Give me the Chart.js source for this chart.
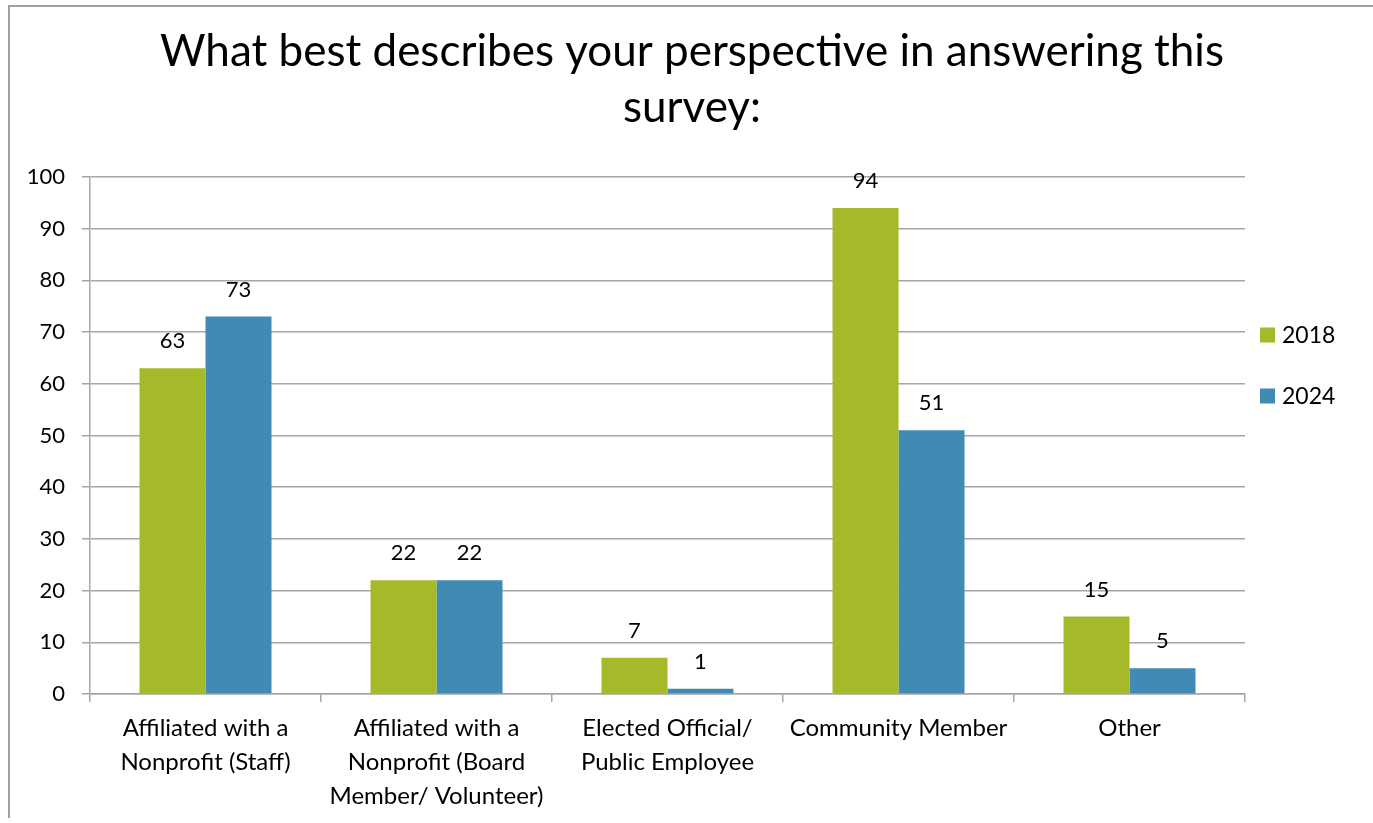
<!DOCTYPE html>
<html>
<head>
<meta charset="utf-8">
<script src="https://cdn.jsdelivr.net/npm/chart.js@4"></script>
<style>
  html, body { margin: 0; padding: 0; background: #fff; }
  #wrap { position: relative; width: 1373px; height: 823px; overflow: hidden; }
  #frame { position: absolute; left: 8px; top: 5px; width: 1400px; height: 813px;
           border-top: 2px solid #a0a0a0; border-left: 2px solid #a0a0a0; box-sizing: border-box; }
  canvas { position: absolute; left: 0; top: 0; }
</style>
</head>
<body>
<div id="wrap">
  <div id="frame"></div>
  <canvas id="c" width="1373" height="823"></canvas>
</div>
<script>
const titleLines = ['What best describes your perspective in answering this', 'survey:'];
const categories = [
  ['Affiliated with a', 'Nonprofit (Staff)'],
  ['Affiliated with a', 'Nonprofit (Board', 'Member/ Volunteer)'],
  ['Elected Official/', 'Public Employee'],
  ['Community Member'],
  ['Other']
];
const seriesNames = ['2018', '2024'];
const values2018 = [63, 22, 7, 94, 15];
const values2024 = [73, 22, 1, 51, 5];
const yMin = 0, yMax = 100, yStep = 10;

const FONT = 'Lato, "Open Sans", sans-serif';
const GREEN = '#A6B929';
const BLUE = '#418AB3';
const GRID = '#A6A6A6';

const dataLabels = {
  id: 'dataLabels',
  afterDatasetsDraw(chart) {
    const ctx = chart.ctx;
    ctx.save();
    ctx.font = '22px ' + FONT;
    ctx.fillStyle = '#000';
    ctx.textAlign = 'center';
    ctx.textBaseline = 'middle';
    chart.data.datasets.forEach((ds, i) => {
      const meta = chart.getDatasetMeta(i);
      meta.data.forEach((el, j) => {
        ctx.fillText(String(ds.data[j]), el.x, el.y - 27);
      });
    });
    ctx.restore();
  }
};

const sideLegend = {
  id: 'sideLegend',
  afterDraw(chart) {
    const ctx = chart.ctx;
    const x0 = chart.chartArea.right + 15;
    const yFirst = 335, gap = 61;
    ctx.save();
    ctx.font = '23px ' + FONT;
    ctx.textBaseline = 'middle';
    ctx.textAlign = 'left';
    chart.data.datasets.forEach((ds, i) => {
      const y = yFirst + i * gap;
      ctx.fillStyle = ds.backgroundColor;
      ctx.fillRect(x0, y - 7.5, 15, 15);
      ctx.fillStyle = '#000';
      ctx.fillText(ds.label, x0 + 22, y + 1);
    });
    ctx.restore();
  }
};

new Chart(document.getElementById('c'), {
  type: 'bar',
  data: {
    labels: categories,
    datasets: [
      { label: seriesNames[0], data: values2018, backgroundColor: GREEN,
        categoryPercentage: 0.5714, barPercentage: 1.0 },
      { label: seriesNames[1], data: values2024, backgroundColor: BLUE,
        categoryPercentage: 0.5714, barPercentage: 1.0 }
    ]
  },
  options: {
    responsive: false,
    animation: false,
    devicePixelRatio: 1,
    layout: { padding: { left: 11, right: 0, top: 0, bottom: 0 } },
    plugins: {
      legend: { display: false },
      tooltip: { enabled: false },
      title: {
        display: true,
        text: titleLines,
        color: '#000',
        font: { family: FONT, size: 44, weight: 'normal', lineHeight: 56 / 44 },
        padding: { top: 24, bottom: 41 }
      }
    },
    scales: {
      x: {
        offset: true,
        grid: { display: true, drawOnChartArea: false, drawTicks: true, tickLength: 8,
                color: GRID, lineWidth: 1.5, offset: true },
        border: { display: true, color: GRID, width: 1.5 },
        ticks: { color: '#000', padding: 9, maxRotation: 0, autoSkip: false,
                 font: { family: FONT, size: 24, lineHeight: 34 / 24 } },
        afterFit(s) { s.height = 129; }
      },
      y: {
        min: yMin, max: yMax,
        grid: { color: GRID, lineWidth: 1.5, drawTicks: true, tickLength: 8 },
        border: { display: true, color: GRID, width: 1.5 },
        ticks: { stepSize: yStep, color: '#000', padding: 17,
                 font: { family: FONT, size: 22 } },
        afterFit(s) { s.width = 79; }
      },
      reserve: {
        position: 'right',
        display: true,
        grid: { display: false },
        border: { display: false },
        ticks: { display: false },
        afterFit(s) { s.width = 128; }
      }
    }
  },
  plugins: [dataLabels, sideLegend]
});
</script>
</body>
</html>
